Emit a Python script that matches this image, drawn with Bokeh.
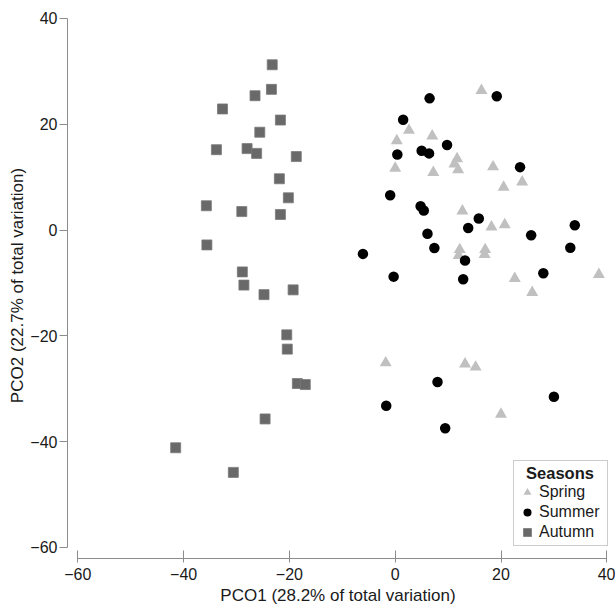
from bokeh.plotting import figure
from bokeh.models import Range1d, Legend, LegendItem, FixedTicker, Label
from bokeh.embed import file_html
from bokeh.resources import INLINE

# ---- data ----
spring_x = [16.3, 2.6, 7.0, 0.3, 11.7, 11.2, 0.0, 7.2, 11.9, 18.5, 20.5, 24.0, 12.7,
            18.2, 20.7, 12.2, 12.0, 17.0, 16.9, 22.6, 38.5, 25.9, -1.8, 13.2, 15.2, 20.0]
spring_y = [26.4, 18.85, 17.8, 16.9, 13.5, 12.5, 11.7, 10.9, 11.4, 11.95, 8.1, 9.1, 3.6,
            0.6, 1.0, -3.7, -4.8, -3.7, -4.6, -9.15, -8.4, -11.8, -25.1, -25.3, -25.9, -34.8]

summer_x = [6.5, 19.2, 1.5, 9.8, 5.0, 6.4, 0.4, 23.6, -0.95, 4.8, 5.4, 15.8, 33.95, 13.8,
            6.1, 25.7, 33.1, 7.4, -6.1, 13.2, 28.0, -0.3, 12.85, 8.0, 30.0, -1.7, 9.45]
summer_y = [24.9, 25.3, 20.85, 16.1, 15.0, 14.5, 14.3, 11.9, 6.6, 4.5, 3.7, 2.2, 0.9, 0.4,
            -0.7, -0.96, -3.35, -3.4, -4.5, -5.75, -8.15, -8.8, -9.3, -28.7, -31.5, -33.2, -37.45]

autumn_x = [-23.25, -23.4, -26.5, -32.65, -21.7, -25.6, -33.8, -28.0, -26.2, -18.7, -21.9,
            -20.2, -35.7, -29.0, -21.7, -35.6, -28.9, -28.6, -19.3, -24.8, -20.5, -20.4,
            -18.5, -17.0, -24.6, -41.5, -30.6]
autumn_y = [31.25, 26.6, 25.4, 22.9, 20.8, 18.5, 15.2, 15.4, 14.5, 13.9, 9.7, 6.1, 4.6, 3.5,
            2.95, -2.8, -7.9, -10.4, -11.3, -12.2, -19.8, -22.5, -29.0, -29.2, -35.7, -41.15,
            -45.8]

ticks = [-60, -40, -20, 0, 20, 40]
x_title = "PCO1 (28.2% of total variation)"
y_title = "PCO2 (22.7% of total variation)"
legend_title = "Seasons"
series_names = ["Spring", "Summer", "Autumn"]

FONT = "Liberation Sans"

p = figure(width=615, height=607, output_backend="svg", toolbar_location=None,
           x_range=Range1d(-61.95, 40.32), y_range=Range1d(-62.08, 41.13),
           min_border_left=67, min_border_right=7, min_border_top=12, min_border_bottom=49)
p.outline_line_color = None
p.grid.visible = False
p.background_fill_color = "white"

r_spring = p.scatter(spring_x, spring_y, marker="triangle", size=12,
                     fill_color="#c0c0c0", line_color=None)
r_summer = p.scatter(summer_x, summer_y, marker="circle", size=10.5,
                     fill_color="#000000", line_color=None)
r_autumn = p.scatter(autumn_x, autumn_y, marker="square", size=10,
                     fill_color="#696969", line_color="#7a7a7a", line_width=0.8)

for ax in (p.xaxis[0], p.yaxis[0]):
    ax.ticker = FixedTicker(ticks=ticks)
    ax.bounds = (-60, 40)
    ax.minor_tick_line_color = None
    ax.axis_line_color = "#8c8c8c"
    ax.major_tick_line_color = "#8c8c8c"
    ax.major_label_text_font = FONT
    ax.major_label_text_font_size = "16px"
    ax.major_label_text_color = "#1a1a1a"
    ax.axis_label_text_font = FONT
    ax.axis_label_text_font_size = "17px"
    ax.axis_label_text_font_style = "normal"
    ax.axis_label_text_color = "#1a1a1a"

p.xaxis.axis_label = x_title
p.yaxis.axis_label = y_title
p.xaxis.major_tick_in = 8
p.xaxis.major_tick_out = 4
p.xaxis.major_label_standoff = 5
p.xaxis.axis_label_standoff = 3
p.yaxis.major_tick_in = 0
p.yaxis.major_tick_out = 8
p.yaxis.major_label_standoff = 2
p.yaxis.axis_label_standoff = 0

legend = Legend(items=[LegendItem(label=series_names[0], renderers=[r_spring]),
                       LegendItem(label=series_names[1], renderers=[r_summer]),
                       LegendItem(label=series_names[2], renderers=[r_autumn])],
                location=(446, 12), title=" ")
legend.title_text_font = FONT
legend.title_text_font_size = "16px"
legend.title_standoff = 0
legend.label_text_font = FONT
legend.label_text_font_size = "16px"
legend.label_text_color = "#1a1a1a"
legend.label_standoff = 2
legend.label_width = 65
legend.label_height = 20
legend.glyph_height = 20
legend.glyph_width = 20
legend.spacing = 0
legend.padding = 3
legend.margin = 0
legend.border_line_color = "#9a9a9a"
legend.border_line_width = 1
legend.background_fill_color = "white"
legend.background_fill_alpha = 0
p.add_layout(legend, "center")

# centred legend title (frame-relative screen position, top of the legend box)
title_label = Label(x=446 + 46.5, y=12 + 74, x_units="screen", y_units="screen",
                    text=legend_title, text_align="center", text_baseline="middle",
                    text_font=FONT, text_font_style="bold", text_font_size="16.5px",
                    text_color="#1a1a1a")
p.add_layout(title_label, "center")

open("out.html", "w").write(file_html(p, INLINE))
